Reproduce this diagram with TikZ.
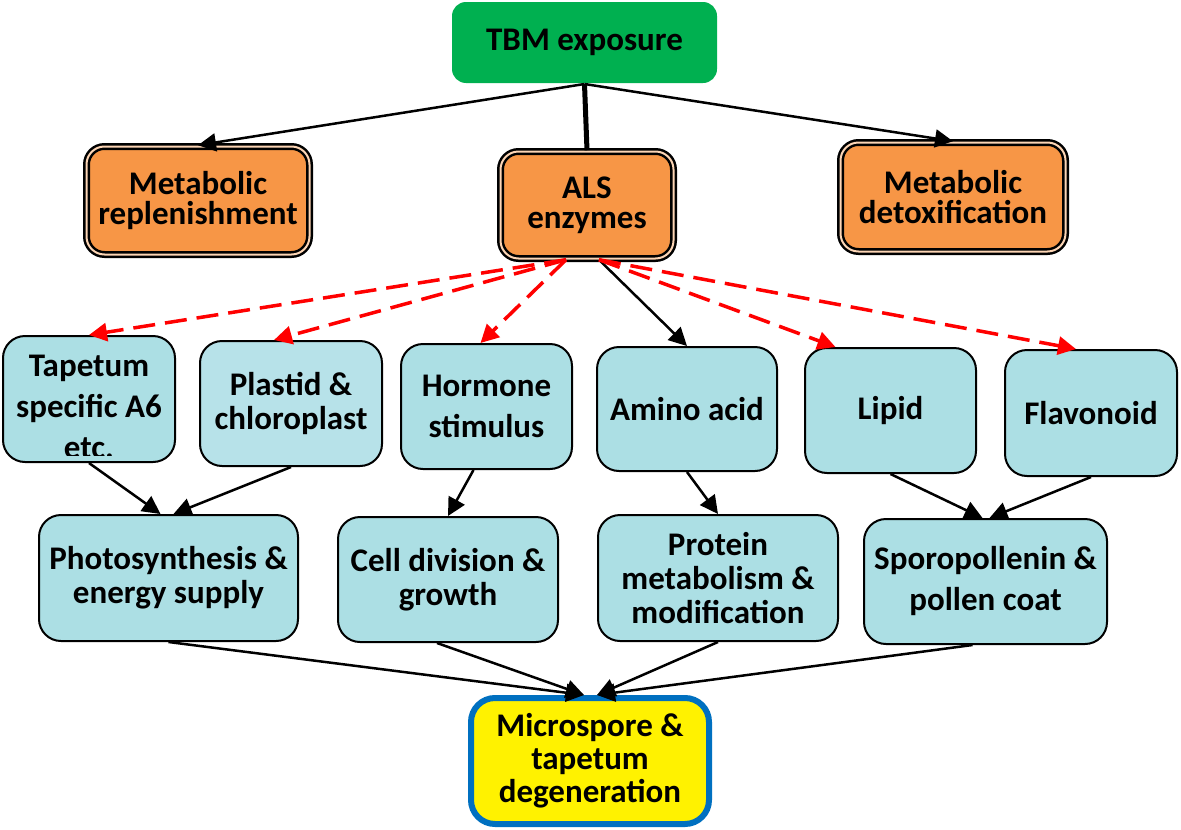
\documentclass[tikz,border=0pt]{standalone}
\usepackage{fontspec}
\setmainfont{Carlito}
\usetikzlibrary{arrows.meta}

\definecolor{tbmgreen}{HTML}{00B050}
\definecolor{alsorange}{HTML}{F79646}
\definecolor{cellblue}{HTML}{ACDFE4}
\definecolor{plastidblue}{HTML}{B7E2E9}
\definecolor{ringblue}{HTML}{0070C0}

\tikzset{
	box/.style={rounded corners=22pt, draw=black, line width=2pt, fill=cellblue, align=center, inner sep=0pt, font=\bfseries\fontsize{33}{34}\selectfont},
	loose/.style={font=\bfseries\fontsize{33}{41}\selectfont},
	orangebox/.style={rounded corners=18pt, draw=black, line width=2.5pt, double=alsorange!40!white, double distance=2pt, fill=alsorange, align=center, inner sep=0pt, font=\bfseries\fontsize{33}{30}\selectfont},
	link/.style={line width=2.5pt, -{Triangle[length=18pt,width=18pt]}},
	maybe/.style={red, line width=3.5pt, dash pattern=on 22pt off 10pt, -{Triangle[length=18pt,width=18pt]}},
}

\begin{document}
\begin{tikzpicture}[x=1pt,y=-1pt]

	\useasboundingbox (0,0) rectangle (1181,830);

	\node[box, draw=none, fill=tbmgreen, rounded corners=14pt, minimum width=265pt, minimum height=81pt] (tbm) at (584.5,42.5) {TBM exposure};

	\node[orangebox, minimum width=223pt, minimum height=108pt] (metrep) at (198,200.5) {Metabolic\\replenishment};
	\node[orangebox, minimum width=173pt, minimum height=107pt] (als) at (587,205) {ALS\\enzymes};
	\node[orangebox, minimum width=225pt, minimum height=109pt] (detox) at (953,197) {Metabolic\\detoxification};

	\node[box, minimum width=172pt, minimum height=126pt] (tapetum) at (89,399) {};
	\node[box, fill=plastidblue, minimum width=182pt, minimum height=125pt] (plastid) at (291,403.5) {Plastid \&\\chloroplast};
	\node[box, loose, minimum width=171pt, minimum height=125pt] (hormone) at (486.5,406.5) {Hormone\\stimulus};
	\node[box, minimum width=180pt, minimum height=124pt] (amino) at (687,409) {Amino acid};
	\node[box, minimum width=171pt, minimum height=125pt] (lipid) at (890.5,410.5) {Lipid};
	\node[box, minimum width=172pt, minimum height=126pt] (flavonoid) at (1091,413) {Flavonoid};

\begin{scope}
	\clip (tapetum.north west) rectangle ([yshift=8pt]tapetum.south east);
	\node[align=center, loose] (tapetumtext) at (89,406.5) {Tapetum\\specific A6\\etc.};
\end{scope}

	\node[box, minimum width=259pt, minimum height=126pt] (photo) at (168.5,578) {Photosynthesis \&\\energy supply};
	\node[box, minimum width=220pt, minimum height=125pt] (celldiv) at (448,579.5) {Cell division \&\\growth};
	\node[box, minimum width=240pt, minimum height=126pt] (protein) at (718,578) {Protein\\metabolism \&\\modification};
	\node[box, loose, minimum width=243pt, minimum height=125pt] (sporo) at (985.5,581.5) {Sporopollenin \&\\pollen coat};

	\node[box, fill=yellow, draw=ringblue, line width=6pt, rounded corners=24pt, font=\bfseries\fontsize{33}{33}\selectfont, minimum width=238pt, minimum height=126pt] (micro) at (590,761) {Microspore \&\\tapetum\\degeneration};

	% from TBM
	\draw[line width=5pt] (tbm.south) -- (als.north);
	\draw[link] (tbm.south) -- (metrep.north);
	\draw[link] (tbm.south) -- (detox.north);

	% from ALS
	\draw[maybe] ([xshift=-21pt]als.south) -- (tapetum.north);
	\draw[maybe] ([xshift=-21pt]als.south) -- ([xshift=-17pt]plastid.north);
	\draw[maybe] ([xshift=-21pt]als.south) -- ([xshift=-6pt]hormone.north);
	\draw[link] ([xshift=12pt]als.south) -- (amino.north);
	\draw[maybe] ([xshift=12pt]als.south) -- ([xshift=-55pt]lipid.north);
	\draw[maybe] ([xshift=12pt]als.south) -- ([xshift=-15pt]flavonoid.north);

	\draw[link] (tapetum.south) -- ([xshift=-8pt]photo.north);
	\draw[link] (plastid.south) -- ([xshift=5pt]photo.north);
	\draw[link] ([xshift=-13pt]hormone.south) -- (celldiv.north);
	\draw[link] (amino.south) -- (protein.north);
	\draw[link] (lipid.south) -- ([xshift=-3pt]sporo.north);
	\draw[link] (flavonoid.south) -- ([xshift=4pt]sporo.north);

	% to the degeneration box
	\draw[link] (photo.south) -- ([xshift=-6pt]micro.north);
	\draw[link] ([xshift=-11pt]celldiv.south) -- ([xshift=-6pt]micro.north);
	\draw[link] (protein.south) -- ([xshift=7pt]micro.north);
	\draw[link] ([xshift=-13pt]sporo.south) -- ([xshift=7pt]micro.north);

\end{tikzpicture}
\end{document}
